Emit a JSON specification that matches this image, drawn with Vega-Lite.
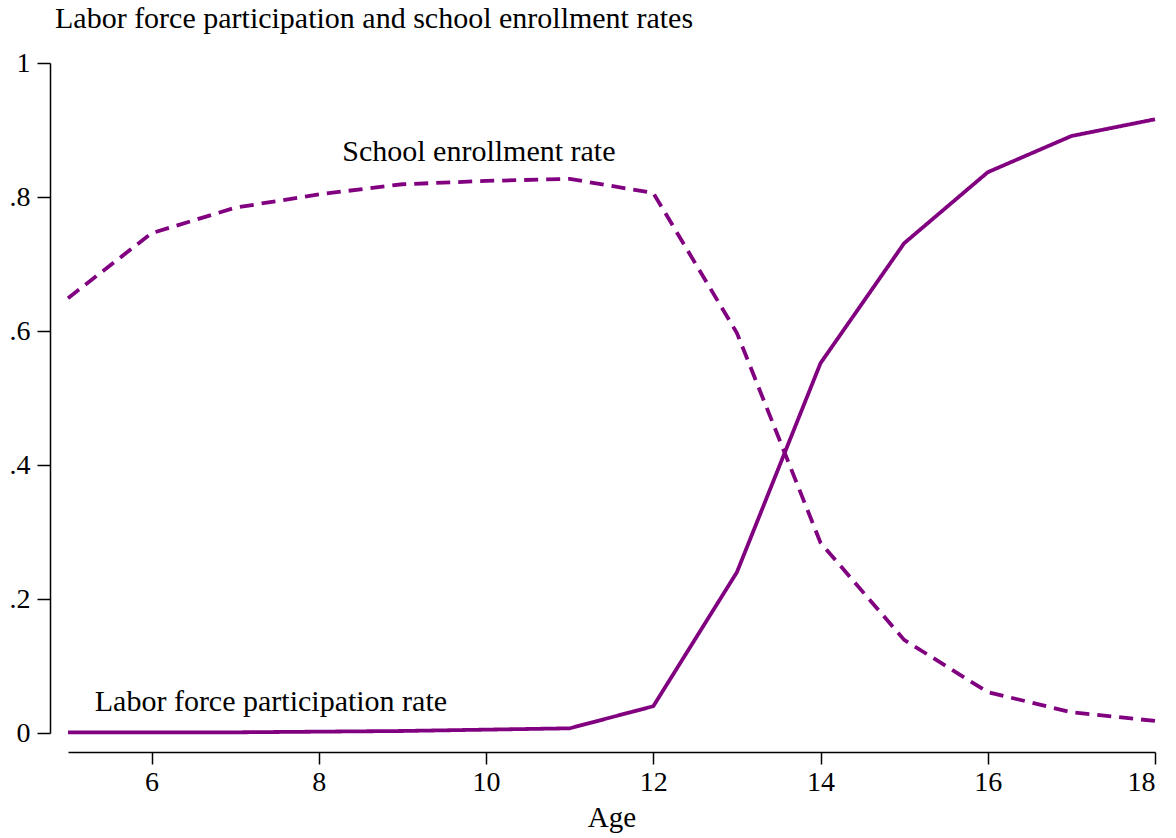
{
  "$schema": "https://vega.github.io/schema/vega-lite/v6.json",
  "width": 1087,
  "height": 670,
  "autosize": {"type": "none"},
  "padding": {"left": 68, "top": 63, "right": 21, "bottom": 105},
  "background": "white",
  "config": {
    "view": {"stroke": null},
    "font": "Liberation Serif",
    "axis": {"grid": false, "domainColor": "black", "tickColor": "black", "labelColor": "black", "titleColor": "black", "labelFont": "Liberation Serif", "titleFont": "Liberation Serif", "domainWidth": 1.5, "tickWidth": 1.5}
  },
  "title": {"text": "Labor force participation and school enrollment rates", "anchor": "start", "frame": "group", "dx": -13, "offset": 15, "fontSize": 30, "fontWeight": "normal", "font": "Liberation Serif", "color": "black"},
  "datasets": {
    "series": [
      {"age": 5, "rate": 0.001, "series": "Labor force participation rate"},
      {"age": 6, "rate": 0.001, "series": "Labor force participation rate"},
      {"age": 7, "rate": 0.001, "series": "Labor force participation rate"},
      {"age": 8, "rate": 0.002, "series": "Labor force participation rate"},
      {"age": 9, "rate": 0.003, "series": "Labor force participation rate"},
      {"age": 10, "rate": 0.005, "series": "Labor force participation rate"},
      {"age": 11, "rate": 0.007, "series": "Labor force participation rate"},
      {"age": 12, "rate": 0.040, "series": "Labor force participation rate"},
      {"age": 13, "rate": 0.240, "series": "Labor force participation rate"},
      {"age": 14, "rate": 0.552, "series": "Labor force participation rate"},
      {"age": 15, "rate": 0.731, "series": "Labor force participation rate"},
      {"age": 16, "rate": 0.837, "series": "Labor force participation rate"},
      {"age": 17, "rate": 0.891, "series": "Labor force participation rate"},
      {"age": 18, "rate": 0.916, "series": "Labor force participation rate"},
      {"age": 5, "rate": 0.649, "series": "School enrollment rate"},
      {"age": 6, "rate": 0.746, "series": "School enrollment rate"},
      {"age": 7, "rate": 0.784, "series": "School enrollment rate"},
      {"age": 8, "rate": 0.804, "series": "School enrollment rate"},
      {"age": 9, "rate": 0.819, "series": "School enrollment rate"},
      {"age": 10, "rate": 0.824, "series": "School enrollment rate"},
      {"age": 11, "rate": 0.827, "series": "School enrollment rate"},
      {"age": 12, "rate": 0.806, "series": "School enrollment rate"},
      {"age": 13, "rate": 0.597, "series": "School enrollment rate"},
      {"age": 14, "rate": 0.284, "series": "School enrollment rate"},
      {"age": 15, "rate": 0.139, "series": "School enrollment rate"},
      {"age": 16, "rate": 0.061, "series": "School enrollment rate"},
      {"age": 17, "rate": 0.031, "series": "School enrollment rate"},
      {"age": 18, "rate": 0.018, "series": "School enrollment rate"}
    ],
    "labels": [
      {"age": 8.28, "rate": 0.867, "label": "School enrollment rate"},
      {"age": 5.32, "rate": 0.047, "label": "Labor force participation rate"}
    ]
  },
  "layer": [
    {
      "data": {"name": "series"},
      "mark": {"type": "line", "color": "#800080", "strokeWidth": 3.8},
      "encoding": {
        "x": {"field": "age", "type": "quantitative", "scale": {"domain": [5, 18], "nice": false, "zero": false},
              "axis": {"values": [6, 8, 10, 12, 14, 16, 18], "format": "d", "offset": 19, "tickSize": 12, "labelFontSize": 28, "labelPadding": 4, "title": "Age", "titleFontSize": 29, "titleFontWeight": "normal", "titlePadding": 7}},
        "y": {"field": "rate", "type": "quantitative", "scale": {"domain": [0, 1], "nice": false},
              "axis": {"values": [0, 0.2, 0.4, 0.6, 0.8, 1], "labelExpr": "datum.value == 0 ? '0' : datum.value == 1 ? '1' : replace(format(datum.value, '.1f'), '0.', '.')", "offset": 18, "tickSize": 13, "labelFontSize": 28, "labelPadding": 7, "title": null}},
        "strokeDash": {"field": "series", "type": "nominal", "scale": {"domain": ["Labor force participation rate", "School enrollment rate"], "range": [[1, 0], [14, 8]]}, "legend": null}
      }
    },
    {
      "data": {"name": "labels"},
      "mark": {"type": "text", "align": "left", "baseline": "middle", "fontSize": 30, "color": "black", "font": "Liberation Serif"},
      "encoding": {
        "x": {"field": "age", "type": "quantitative"},
        "y": {"field": "rate", "type": "quantitative"},
        "text": {"field": "label"}
      }
    }
  ]
}
